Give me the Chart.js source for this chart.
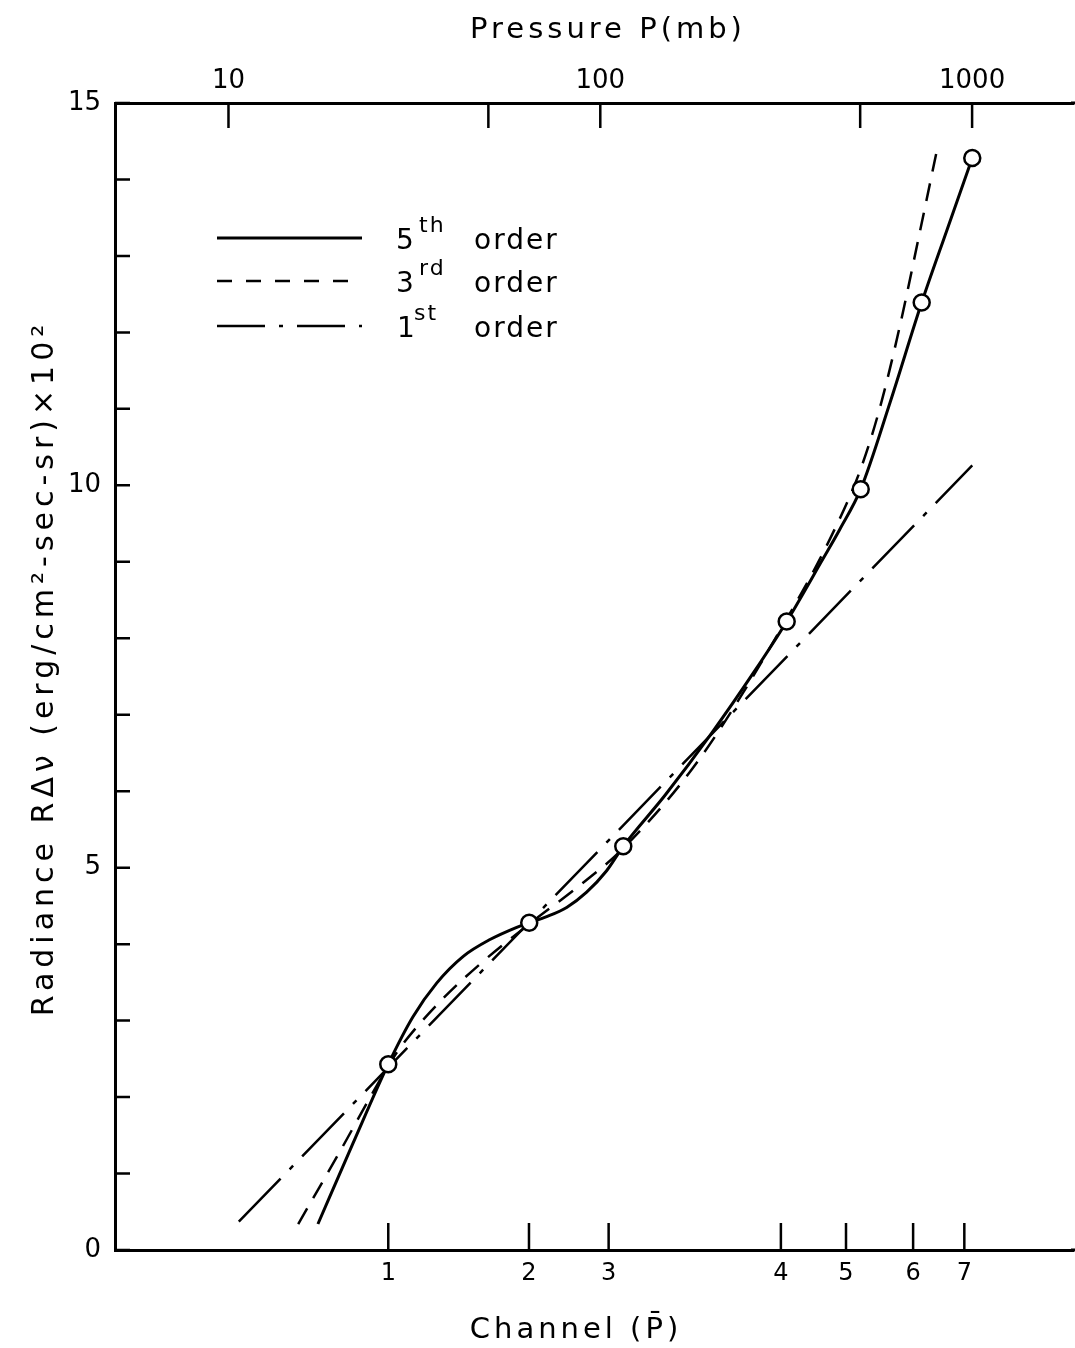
<!DOCTYPE html>
<html lang="en">
<head>
<meta charset="UTF-8">
<title>Radiance vs Pressure</title>
<style>
  body { margin: 0; background: #fff; }
  #myChart { display: block; }
</style>
<script src="https://cdn.jsdelivr.net/npm/chart.js"></script>
</head>
<body>
<canvas id="myChart" width="1075" height="1348"></canvas>
<script>
// pressure in mb (log axis), radiance in units of 10^-2 erg/cm2-sec-sr
const topTickP = [10, 50, 100, 500, 1000];
const topLabelP = [10, 100, 1000];
const topLabels = ['10', '100', '1000'];
const channelP = [26.9, 64.3, 105.3, 306, 458, 694, 953];
const channelLabels = ['1', '2', '3', '4', '5', '6', '7'];
const yMinorTicks = [0, 1, 2, 3, 4, 5, 6, 7, 8, 9, 10, 11, 12, 13, 14, 15];

// measured channel radiances (circles)
const obsP = [26.9, 64.4, 115.3, 317.2, 501.7, 731.9, 1001];
const obsR = [2.43, 4.28, 5.28, 8.22, 9.95, 12.39, 14.28];

// fitted curves
const fifthP = [17.4, 21.6, 26.9, 31.35, 36.3, 42.8, 50.5, 59.6, 64.4, 71.75, 81.2, 91.9, 104.0, 115.3, 149.5, 199.3, 259.1, 317.2, 397.2, 441.3, 501.7, 601.4, 731.9, 856, 1001];
const fifthR = [0.34, 1.39, 2.43, 3.05, 3.49, 3.84, 4.06, 4.22, 4.28, 4.36, 4.48, 4.68, 4.96, 5.28, 5.95, 6.76, 7.56, 8.22, 9.04, 9.43, 9.95, 11.08, 12.39, 13.34, 14.28];

const thirdP = [15.4, 19.95, 24.0, 26.85, 28.9, 37.1, 47.5, 64.3, 88.2, 115.1, 185.4, 317.8, 414.8, 499.5, 565.4, 639.8, 719.7, 809.6];
const thirdR = [0.34, 1.29, 1.99, 2.40, 2.64, 3.25, 3.74, 4.26, 4.77, 5.25, 6.43, 8.26, 9.30, 10.19, 11.02, 12.09, 13.26, 14.45];

const firstP = [10.66, 1001];
const firstR = [0.37, 10.26];

const legendNum = ['5', '3', '1'];
const legendSup = ['th', 'rd', 'st'];
const legendDash = [[], [15, 14], [48, 14, 4, 14]];

const FONT = '"DejaVu Sans", sans-serif';

function pairs(xs, ys) {
    return xs.map((x, i) => ({ x: x, y: ys[i] }));
}

const frame = {
    id: 'frame',
    beforeDraw(chart) {
        const ctx = chart.ctx;
        ctx.save();
        ctx.fillStyle = '#fff';
        ctx.fillRect(0, 0, chart.width, chart.height);
        ctx.restore();
    },
    afterDraw(chart) {
        const ctx = chart.ctx;
        const a = chart.chartArea;
        const xs = chart.scales.x;
        const ys = chart.scales.y;
        ctx.save();
        ctx.strokeStyle = '#000';
        ctx.lineWidth = 2.5;
        ctx.beginPath();
        yMinorTicks.forEach(v => {
            const py = ys.getPixelForValue(v);
            ctx.moveTo(a.left, py);
            ctx.lineTo(a.left + 15, py);
        });
        topTickP.forEach(p => {
            const px = xs.getPixelForValue(p);
            ctx.moveTo(px, a.top);
            ctx.lineTo(px, a.top + 25);
        });
        channelP.forEach(p => {
            const px = xs.getPixelForValue(p);
            ctx.moveTo(px, a.bottom);
            ctx.lineTo(px, a.bottom - 27);
        });
        ctx.stroke();

        // frame lines run on to the edge of the page
        ctx.lineWidth = 3;
        ctx.beginPath();
        ctx.moveTo(a.right - 2, a.top);
        ctx.lineTo(chart.width, a.top);
        ctx.moveTo(a.right - 2, a.bottom);
        ctx.lineTo(chart.width, a.bottom);
        ctx.stroke();

        // axis titles
        ctx.fillStyle = '#000';
        ctx.textAlign = 'center';
        ctx.textBaseline = 'middle';
        ctx.font = '29px ' + FONT;
        ctx.letterSpacing = '4px';
        ctx.fillText('Pressure P(mb)', 608, 30);
        ctx.fillText('Channel (P\u0304)', 576, 1330);
        ctx.save();
        ctx.translate(45, 668);
        ctx.rotate(-Math.PI / 2);
        ctx.font = '30px ' + FONT;
        ctx.letterSpacing = '5px';
        ctx.fillText('Radiance R\u0394\u03bd (erg/cm\u00b2-sec-sr)\u00d710\u00b2', 0, 0);
        ctx.restore();

        // legend
        const rows = [238, 281, 326];
        ctx.letterSpacing = '2px';
        ctx.textAlign = 'left';
        ctx.textBaseline = 'alphabetic';
        rows.forEach((ry, i) => {
            ctx.lineWidth = i === 0 ? 3 : 2.5;
            ctx.setLineDash(legendDash[i]);
            ctx.beginPath();
            ctx.moveTo(217, ry);
            ctx.lineTo(362, ry);
            ctx.stroke();
            ctx.setLineDash([]);
            ctx.font = '28px ' + FONT;
            ctx.fillText(legendNum[i], i === 2 ? 397 : 396, ry + 11);
            ctx.font = '22px ' + FONT;
            ctx.fillText(legendSup[i], i === 2 ? 414 : 419, ry - 6);
            ctx.font = '28px ' + FONT;
            ctx.fillText('order', 474, ry + 11);
        });
        ctx.restore();
    }
};

new Chart(document.getElementById('myChart').getContext('2d'), {
    type: 'line',
    data: {
        datasets: [
            {
                label: 'channels',
                data: pairs(obsP, obsR),
                showLine: false,
                pointRadius: 8,
                pointBackgroundColor: '#fff',
                pointBorderColor: '#000',
                pointBorderWidth: 2.5,
                order: 0
            },
            {
                label: '5th order',
                data: pairs(fifthP, fifthR),
                borderColor: '#000',
                borderWidth: 3,
                pointRadius: 0,
                cubicInterpolationMode: 'monotone',
                order: 1
            },
            {
                label: '3rd order',
                data: pairs(thirdP, thirdR),
                borderColor: '#000',
                borderWidth: 2.5,
                borderDash: [18, 12],
                pointRadius: 0,
                cubicInterpolationMode: 'monotone',
                order: 2
            },
            {
                label: '1st order',
                data: pairs(firstP, firstR),
                borderColor: '#000',
                borderWidth: 2.5,
                borderDash: [60, 13, 5, 13],
                pointRadius: 0,
                tension: 0,
                order: 3
            }
        ]
    },
    options: {
        responsive: false,
        animation: false,
        layout: { autoPadding: false, padding: { left: 0, right: 2, top: 0, bottom: 0 } },
        plugins: {
            legend: { display: false },
            tooltip: { enabled: false }
        },
        scales: {
            x: {
                type: 'logarithmic',
                position: 'bottom',
                min: 4.952,
                max: 1868,
                afterBuildTicks: s => { s.ticks = channelP.map(v => ({ value: v })); },
                afterFit: s => { s.height = 98; },
                grid: { display: false, drawTicks: false },
                border: { display: true, color: '#000', width: 3 },
                ticks: {
                    autoSkip: false,
                    maxRotation: 0,
                    padding: 9,
                    color: '#000',
                    font: { family: FONT, size: 24 },
                    callback: (v, i) => channelLabels[i]
                }
            },
            x2: {
                type: 'logarithmic',
                position: 'top',
                min: 4.952,
                max: 1868,
                afterBuildTicks: s => { s.ticks = topLabelP.map(v => ({ value: v })); },
                afterFit: s => { s.height = 103; },
                grid: { display: false, drawTicks: false },
                border: { display: true, color: '#000', width: 3 },
                ticks: {
                    autoSkip: false,
                    maxRotation: 0,
                    padding: 6,
                    color: '#000',
                    font: { family: FONT, size: 26 },
                    callback: (v, i) => topLabels[i]
                }
            },
            y: {
                min: 0,
                max: 15,
                afterFit: s => { s.width = 115; },
                grid: { display: false, drawTicks: false },
                border: { display: true, color: '#000', width: 3 },
                ticks: {
                    stepSize: 5,
                    padding: 14,
                    color: '#000',
                    font: { family: FONT, size: 26 }
                }
            }
        }
    },
    plugins: [frame]
});
</script>
</body>
</html>
